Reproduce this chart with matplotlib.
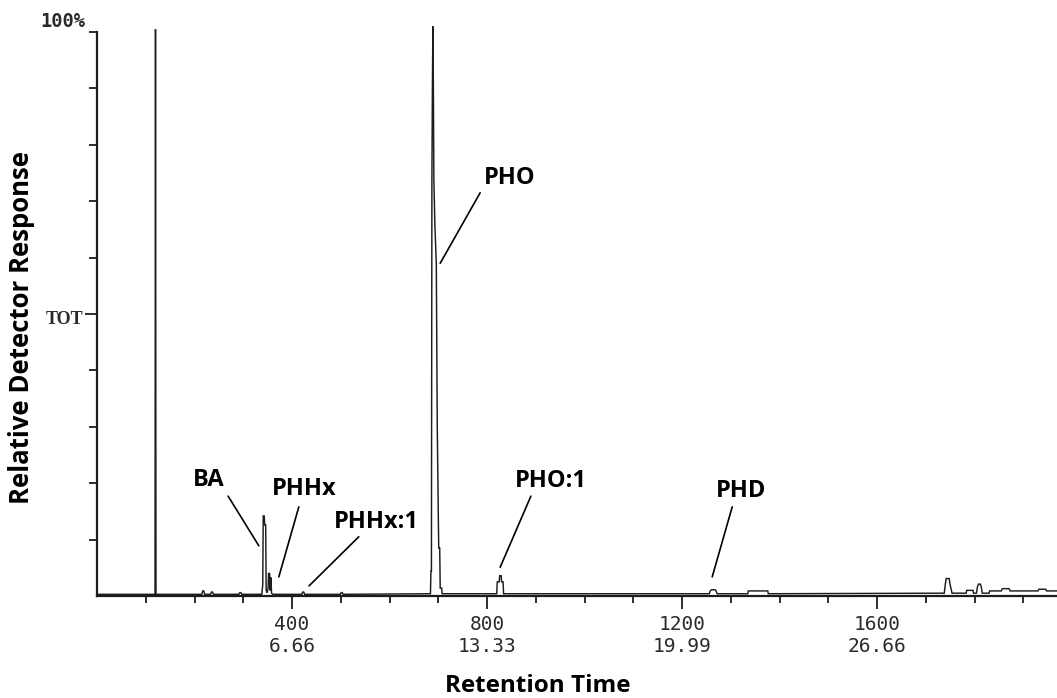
import matplotlib
matplotlib.use("Agg")
import matplotlib.pyplot as plt
from matplotlib.transforms import blended_transform_factory

# total ion chromatogram: scan number vs. relative response (%)
SCAN = [
    0, 119, 120, 121,                                   # solvent front
    215, 217, 219, 221,
    233, 235, 237, 239,
    291, 293, 295, 297,
    338, 340, 341, 343, 344, 346, 347,                  # BA
    349, 351, 352, 354, 355, 356, 357, 358, 361,        # PHHx
    420, 422, 424, 426,                                 # PHHx:1
    499, 501, 503, 505,
    684, 685, 686, 687, 688, 689, 690, 691,             # PHO
    693, 696, 698, 700, 701, 703, 704, 707, 708,
    820, 821, 825, 826, 829, 830, 833, 834,             # PHO:1
    1256, 1258, 1260, 1268, 1270, 1272,                 # PHD
    1335, 1336, 1376, 1377,
    1738, 1740, 1742, 1748, 1750, 1754,
    1783, 1784, 1797, 1798,
    1804, 1806, 1808, 1812, 1814, 1816,
    1830, 1831, 1855, 1857, 1871, 1873,
    1930, 1932, 1946, 1948, 1970,
]
RESPONSE = [
    0.3, 0.3, 100.5, 0.3,
    0.3, 0.9, 0.9, 0.3,
    0.3, 0.7, 0.7, 0.3,
    0.3, 0.6, 0.6, 0.3,
    0.3, 2.0, 14.2, 14.2, 12.6, 12.6, 1.0,
    0.6, 1.5, 4.0, 4.0, 1.0, 3.2, 3.2, 0.5, 0.3,
    0.3, 0.7, 0.7, 0.3,
    0.3, 0.6, 0.6, 0.3,
    0.4, 4.4, 4.4, 74.0, 90.0, 101.0, 90.0, 74.0,
    66.0, 59.0, 30.0, 15.0, 8.5, 8.5, 1.4, 1.4, 0.4,
    0.4, 2.5, 2.5, 3.6, 3.6, 2.5, 2.5, 0.4,
    0.4, 0.9, 1.1, 1.1, 0.9, 0.4,
    0.4, 0.9, 0.9, 0.4,
    0.5, 2.0, 3.1, 3.1, 2.0, 0.5,
    0.5, 1.0, 1.0, 0.5,
    0.5, 1.6, 2.1, 2.1, 1.6, 0.5,
    0.5, 0.9, 0.9, 1.3, 1.3, 0.9,
    0.9, 1.2, 1.2, 0.9, 0.9,
]

SCAN_TICKS = [400, 800, 1200, 1600]
MINUTE_LABELS = ["6.66", "13.33", "19.99", "26.66"]

# peak name, text position, leader start, leader end (scan, %)
PEAK_LABELS = [
    ("BA",     (230, 20.6), (269, 17.7), (332, 8.9)),
    ("PHHx",   (425, 19.0), (414, 15.8), (373, 3.4)),
    ("PHHx:1", (574, 13.1), (537, 10.5), (435, 1.8)),
    ("PHO",    (847, 74.1), (786, 71.5), (704, 59.0)),
    ("PHO:1",  (931, 20.4), (890, 17.7), (827, 5.1)),
    ("PHD",    (1321, 18.6), (1303, 15.8), (1262, 3.4)),
]

INK = "#1c1c1c"
MONO = "DejaVu Sans Mono"
LABEL_FONT = "Open Sans"

W, H = 1057, 698
fig = plt.figure(figsize=(W / 100, H / 100), dpi=100)
ax = fig.add_axes([97 / W, (H - 596) / H, (W - 97) / W, (596 - 32) / H])

ax.plot(SCAN, RESPONSE, color=INK, lw=1.05, clip_on=False, solid_joinstyle="miter")

ax.set_xlim(0, (W - 97) / 0.4875)
ax.set_ylim(0, 100)

for side in ("top", "right"):
    ax.spines[side].set_visible(False)
for side in ("left", "bottom"):
    ax.spines[side].set_linewidth(1.6)
    ax.spines[side].set_color(INK)

# x axis: scan numbers with retention minutes underneath
ax.set_xticks(SCAN_TICKS)
ax.set_xticklabels([f"{s}\n{m}" for s, m in zip(SCAN_TICKS, MINUTE_LABELS)],
                   fontfamily=MONO, fontsize=14, color="#2a2a2a", linespacing=1.15)
ax.set_xticks([s for s in range(100, 2000, 100) if s not in SCAN_TICKS], minor=True)
ax.tick_params(axis="x", which="major", direction="out", length=9, width=1.3, color=INK, pad=5)
ax.tick_params(axis="x", which="minor", direction="out", length=5, width=1.3, color=INK)

# y axis: 10 % divisions, the half-scale one is longer
ax.set_yticks([50])
ax.set_yticklabels([""])
ax.set_yticks([10, 20, 30, 40, 60, 70, 80, 90, 100], minor=True)
ax.tick_params(axis="y", which="major", direction="out", length=9, width=1.3, color=INK)
ax.tick_params(axis="y", which="minor", direction="out", length=6, width=1.3, color=INK)

ytrans = blended_transform_factory(ax.transAxes, ax.transData)
ax.annotate("100%", xy=(0, 100), xycoords=ytrans, xytext=(-8.5, 7.5),
            textcoords="offset points", ha="right", va="center",
            fontfamily=MONO, fontsize=13.5, fontweight="bold", color="#2a2a2a")
ax.annotate("TOT", xy=(0, 50), xycoords=ytrans, xytext=(-10, -4),
            textcoords="offset points", ha="right", va="center",
            fontfamily="Liberation Serif", fontsize=13, fontweight="bold", color="#2a2a2a")

for name, txt, start, end in PEAK_LABELS:
    ax.text(*txt, name, ha="center", va="center", fontfamily=LABEL_FONT,
            fontsize=17, fontweight="bold", color="black")
    ax.annotate("", xy=end, xytext=start,
                arrowprops=dict(arrowstyle="-", color="black", lw=1.2,
                                shrinkA=0, shrinkB=0))

fig.text(538 / W, 1 - 686 / H, "Retention Time", ha="center", va="center",
         fontfamily=LABEL_FONT, fontsize=17.5, fontweight="bold")
fig.text(22 / W, 1 - 327 / H, "Relative Detector Response", ha="center", va="center",
         rotation=90, fontfamily=LABEL_FONT, fontsize=18.5, fontweight="bold")

fig.savefig("out.png", dpi=100)
